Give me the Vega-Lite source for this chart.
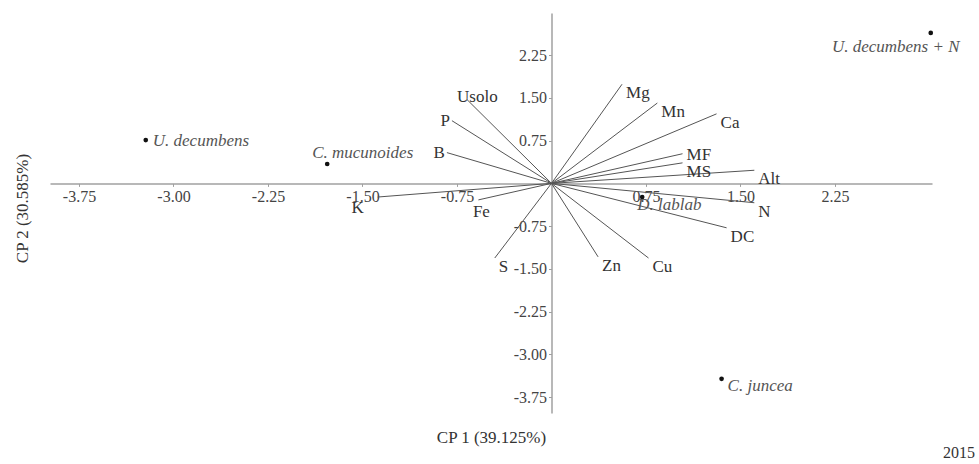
{
  "$schema": "https://vega.github.io/schema/vega-lite/v6.json",
  "width": 882,
  "height": 400,
  "autosize": "none",
  "padding": {"left": 50, "top": 13, "right": 47, "bottom": 51},
  "background": "white",
  "config": {
    "view": {"stroke": null},
    "font": "Liberation Serif",
    "text": {"font": "Liberation Serif", "fontSize": 17, "color": "#333"}
  },
  "title": {
    "text": "2015",
    "orient": "bottom",
    "anchor": "end",
    "frame": "group",
    "font": "Liberation Serif",
    "fontSize": 16,
    "fontWeight": "normal",
    "color": "#333",
    "dx": 43,
    "offset": 0
  },
  "datasets": {
    "loadings": [
      {"var": "Usolo", "x": -0.67, "y": 1.47},
      {"var": "P", "x": -0.79, "y": 1.10},
      {"var": "B", "x": -0.83, "y": 0.54},
      {"var": "K", "x": -1.38, "y": -0.24},
      {"var": "Fe", "x": -0.58, "y": -0.29},
      {"var": "S", "x": -0.45, "y": -1.31},
      {"var": "Zn", "x": 0.37, "y": -1.29},
      {"var": "Cu", "x": 0.77, "y": -1.31},
      {"var": "DC", "x": 1.39, "y": -0.78},
      {"var": "N", "x": 1.61, "y": -0.34},
      {"var": "Alt", "x": 1.61, "y": 0.23},
      {"var": "MS", "x": 1.04, "y": 0.36},
      {"var": "MF", "x": 1.04, "y": 0.52},
      {"var": "Ca", "x": 1.31, "y": 1.22},
      {"var": "Mn", "x": 0.84, "y": 1.41},
      {"var": "Mg", "x": 0.56, "y": 1.74}
    ],
    "scores": [
      {"trat": "U. decumbens", "x": -3.22, "y": 0.76},
      {"trat": "C. mucunoides", "x": -1.78, "y": 0.34},
      {"trat": "U. decumbens + N", "x": 3.01, "y": 2.64},
      {"trat": "D. lablab", "x": 0.72, "y": -0.24},
      {"trat": "C. juncea", "x": 1.35, "y": -3.43}
    ]
  },
  "data": {"name": "loadings"},
  "encoding": {
    "x": {
      "field": "x",
      "type": "quantitative",
      "scale": {"domain": [-3.98, 3.02], "nice": false, "zero": false},
      "axis": {
        "values": [-3.75, -3, -2.25, -1.5, -0.75, 0.75, 1.5, 2.25],
        "labelExpr": "(datum.value < 0 ? '-' : '') + format(abs(datum.value), '.2f')",
        "offset": -229.6,
        "grid": false,
        "domainColor": "#a0a0a0",
        "domainWidth": 1.5,
        "tickColor": "#a0a0a0",
        "tickSize": 3,
        "labelFont": "Liberation Serif",
        "labelFontSize": 16,
        "labelColor": "#444",
        "labelPadding": 2,
        "labelFlush": false,
        "labelOverlap": false,
        "title": "CP 1 (39.125%)",
        "titleFont": "Liberation Serif",
        "titleFontSize": 17,
        "titleFontWeight": "normal",
        "titleColor": "#333",
        "titleY": 254,
        "titleBaseline": "middle"
      }
    },
    "y": {
      "field": "y",
      "type": "quantitative",
      "scale": {"domain": [-4.03, 2.99], "nice": false, "zero": false},
      "axis": {
        "values": [2.25, 1.5, 0.75, -0.75, -1.5, -2.25, -3, -3.75],
        "labelExpr": "(datum.value < 0 ? '-' : '') + format(abs(datum.value), '.2f')",
        "offset": -501.5,
        "grid": false,
        "domainColor": "#a0a0a0",
        "domainWidth": 1.5,
        "tickColor": "#a0a0a0",
        "tickSize": 3,
        "labelFont": "Liberation Serif",
        "labelFontSize": 16,
        "labelColor": "#444",
        "labelPadding": 2,
        "labelFlush": false,
        "labelOverlap": false,
        "title": "CP 2 (30.585%)",
        "titleFont": "Liberation Serif",
        "titleFontSize": 17,
        "titleFontWeight": "normal",
        "titleColor": "#333",
        "titleX": -529,
        "titleY": 195,
        "titleAngle": -90,
        "titleBaseline": "middle",
        "titleAlign": "center"
      }
    }
  },
  "layer": [
    {
      "mark": {"type": "rule", "color": "#555", "strokeWidth": 1},
      "encoding": {"x2": {"datum": 0}, "y2": {"datum": 0}}
    },
    {
      "transform": [{"filter": {"field": "var", "oneOf": ["Mg", "Mn", "Ca", "MS", "Alt", "N", "DC", "Cu", "Zn", "S"]}}],
      "mark": {"type": "text", "align": "left", "baseline": "middle", "dx": 4, "dy": 9},
      "encoding": {"text": {"field": "var"}}
    },
    {
      "transform": [{"filter": {"field": "var", "equal": "MF"}}],
      "mark": {"type": "text", "align": "left", "baseline": "middle", "dx": 4, "dy": 1},
      "encoding": {"text": {"field": "var"}}
    },
    {
      "transform": [{"filter": {"field": "var", "oneOf": ["P", "B"]}}],
      "mark": {"type": "text", "align": "right", "baseline": "middle", "dx": -2, "dy": 0},
      "encoding": {"text": {"field": "var"}}
    },
    {
      "transform": [{"filter": {"field": "var", "equal": "Usolo"}}],
      "mark": {"type": "text", "align": "left", "baseline": "middle", "dx": -10, "dy": -3},
      "encoding": {"text": {"field": "var"}}
    },
    {
      "transform": [{"filter": {"field": "var", "equal": "K"}}],
      "mark": {"type": "text", "align": "center", "baseline": "middle", "dx": -20, "dy": 11},
      "encoding": {"text": {"field": "var"}}
    },
    {
      "transform": [{"filter": {"field": "var", "equal": "Fe"}}],
      "mark": {"type": "text", "align": "center", "baseline": "middle", "dx": 3, "dy": 12},
      "encoding": {"text": {"field": "var"}}
    },
    {
      "data": {"name": "scores"},
      "mark": {"type": "circle", "size": 22, "color": "#111", "opacity": 1},
      "encoding": {}
    },
    {
      "data": {"name": "scores"},
      "transform": [{"filter": {"field": "trat", "equal": "U. decumbens"}}],
      "mark": {"type": "text", "align": "left", "baseline": "middle", "dx": 7, "dy": 1, "fontStyle": "italic", "color": "#555"},
      "encoding": {"text": {"field": "trat"}}
    },
    {
      "data": {"name": "scores"},
      "transform": [{"filter": {"field": "trat", "equal": "C. mucunoides"}}],
      "mark": {"type": "text", "align": "left", "baseline": "middle", "dx": -15, "dy": -11, "fontStyle": "italic", "color": "#555"},
      "encoding": {"text": {"field": "trat"}}
    },
    {
      "data": {"name": "scores"},
      "transform": [{"filter": {"field": "trat", "equal": "U. decumbens + N"}}],
      "mark": {"type": "text", "align": "center", "baseline": "middle", "dx": -35, "dy": 14, "fontStyle": "italic", "color": "#555"},
      "encoding": {"text": {"field": "trat"}}
    },
    {
      "data": {"name": "scores"},
      "transform": [{"filter": {"field": "trat", "equal": "D. lablab"}}],
      "mark": {"type": "text", "align": "left", "baseline": "middle", "dx": -5, "dy": 8, "fontStyle": "italic", "color": "#555"},
      "encoding": {"text": {"field": "trat"}}
    },
    {
      "data": {"name": "scores"},
      "transform": [{"filter": {"field": "trat", "equal": "C. juncea"}}],
      "mark": {"type": "text", "align": "left", "baseline": "middle", "dx": 6, "dy": 7, "fontStyle": "italic", "color": "#555"},
      "encoding": {"text": {"field": "trat"}}
    }
  ]
}
